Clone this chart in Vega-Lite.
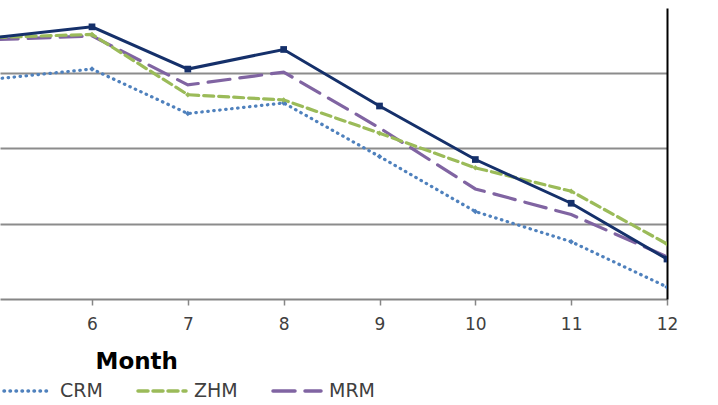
{
  "$schema": "https://vega.github.io/schema/vega-lite/v6.json",
  "width": 667,
  "height": 291,
  "autosize": {"type": "none"},
  "padding": {"left": 0, "top": 8, "right": 51, "bottom": 106},
  "background": "white",
  "config": {"view": {"stroke": null}, "font": "DejaVu Sans"},
  "data": {"values": [
    {"month": 5, "series": "Proposed", "value": 3.47},
    {"month": 6, "series": "Proposed", "value": 3.61},
    {"month": 7, "series": "Proposed", "value": 3.05},
    {"month": 8, "series": "Proposed", "value": 3.31},
    {"month": 9, "series": "Proposed", "value": 2.56},
    {"month": 10, "series": "Proposed", "value": 1.85},
    {"month": 11, "series": "Proposed", "value": 1.27},
    {"month": 12, "series": "Proposed", "value": 0.53},
    {"month": 5, "series": "MRM", "value": 3.44},
    {"month": 6, "series": "MRM", "value": 3.49},
    {"month": 7, "series": "MRM", "value": 2.84},
    {"month": 8, "series": "MRM", "value": 3.01},
    {"month": 9, "series": "MRM", "value": 2.27},
    {"month": 10, "series": "MRM", "value": 1.46},
    {"month": 11, "series": "MRM", "value": 1.12},
    {"month": 12, "series": "MRM", "value": 0.56},
    {"month": 5, "series": "ZHM", "value": 3.47},
    {"month": 6, "series": "ZHM", "value": 3.51},
    {"month": 7, "series": "ZHM", "value": 2.71},
    {"month": 8, "series": "ZHM", "value": 2.64},
    {"month": 9, "series": "ZHM", "value": 2.20},
    {"month": 10, "series": "ZHM", "value": 1.74},
    {"month": 11, "series": "ZHM", "value": 1.43},
    {"month": 12, "series": "ZHM", "value": 0.73},
    {"month": 5, "series": "CRM", "value": 2.92},
    {"month": 6, "series": "CRM", "value": 3.05},
    {"month": 7, "series": "CRM", "value": 2.46},
    {"month": 8, "series": "CRM", "value": 2.60},
    {"month": 9, "series": "CRM", "value": 1.89},
    {"month": 10, "series": "CRM", "value": 1.16},
    {"month": 11, "series": "CRM", "value": 0.76},
    {"month": 12, "series": "CRM", "value": 0.16}
  ]},
  "encoding": {
    "x": {
      "field": "month", "type": "quantitative",
      "scale": {"domain": [5.04, 12], "nice": false, "zero": false},
      "axis": {
        "values": [6, 7, 8, 9, 10, 11, 12], "format": "d", "grid": false,
        "domainColor": "#868686", "domainWidth": 2,
        "tickColor": "#868686", "tickSize": 6, "tickWidth": 1.5,
        "labelFontSize": 17, "labelColor": "#404040", "labelPadding": 11, "labelFlush": false,
        "title": "Month", "titleFontSize": 23, "titleFontWeight": "bold", "titleColor": "#000000",
        "titleX": 95, "titleY": 69, "titleAlign": "left", "titleBaseline": "alphabetic", "titleAnchor": "start"
      }
    },
    "y": {
      "field": "value", "type": "quantitative",
      "scale": {"domain": [0, 3.86], "nice": false, "zero": true},
      "axis": {
        "orient": "right", "title": null, "labels": false, "ticks": false,
        "domain": true, "domainColor": "#000000", "domainWidth": 2,
        "grid": true, "gridColor": "#8c8c8c", "gridWidth": 2, "values": [1, 2, 3]
      }
    }
  },
  "layer": [
    {
      "transform": [{"filter": "datum.series !== 'Proposed'"}],
      "mark": {"type": "line", "clip": true, "strokeWidth": 3.2, "strokeCap": "round"},
      "encoding": {
        "color": {
          "field": "series", "type": "nominal",
          "scale": {"domain": ["CRM", "ZHM", "MRM"], "range": ["#4F81BD", "#9BBB59", "#8064A2"]},
          "legend": {
            "orient": "none", "legendX": 2, "legendY": 357, "direction": "horizontal", "title": null,
            "symbolType": "stroke", "symbolSize": 2304, "symbolStrokeWidth": 3.5,
            "labelFontSize": 19, "labelColor": "#404040", "labelOffset": 6, "columnPadding": 28,
            "encode": {"symbols": {"update": {"strokeCap": {"value": "round"}}}}
          }
        },
        "strokeDash": {
          "field": "series", "type": "nominal",
          "scale": {"domain": ["CRM", "ZHM", "MRM"], "range": [[0.5, 5.5], [10, 5], [22, 10]]}
        }
      }
    },
    {
      "transform": [{"filter": "datum.series === 'CRM'"}],
      "mark": {"type": "point", "shape": "diamond", "filled": true, "size": 30, "clip": true, "color": "#4F81BD", "opacity": 1}
    },
    {
      "transform": [{"filter": "datum.series === 'ZHM'"}],
      "mark": {"type": "point", "shape": "diamond", "filled": true, "size": 30, "clip": true, "color": "#9BBB59", "opacity": 1}
    },
    {
      "transform": [{"filter": "datum.series === 'Proposed'"}],
      "mark": {"type": "line", "clip": true, "strokeWidth": 3, "color": "#15306A"}
    },
    {
      "transform": [{"filter": "datum.series === 'Proposed'"}],
      "mark": {"type": "point", "shape": "square", "filled": true, "size": 45, "clip": true, "color": "#15306A", "opacity": 1}
    }
  ]
}
